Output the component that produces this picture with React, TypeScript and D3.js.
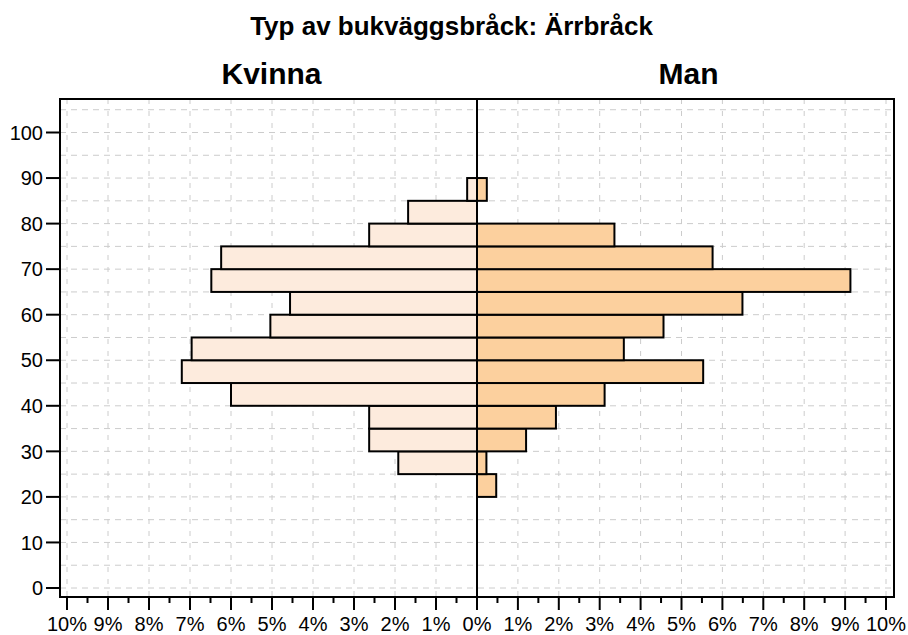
import React from "react";
import * as d3 from "d3";

const ageStarts = [20, 25, 30, 35, 40, 45, 50, 55, 60, 65, 70, 75, 80, 85];
const women = [0, 1.92, 2.63, 2.63, 6.0, 7.2, 6.96, 5.04, 4.56, 6.48, 6.24, 2.63, 1.68, 0.24];
const men = [0.47, 0.23, 1.2, 1.93, 3.12, 5.53, 3.59, 4.56, 6.49, 9.13, 5.76, 3.36, 0, 0.24];
const yTicks = [0, 10, 20, 30, 40, 50, 60, 70, 80, 90, 100];
const pctTicks = [1, 2, 3, 4, 5, 6, 7, 8, 9, 10];
const title = "Typ av bukväggsbråck: Ärrbråck";
const leftLabel = "Kvinna";
const rightLabel = "Man";

const W = 908, H = 635;
const frame = { l: 60, r: 894, t: 99, b: 597 };
const cx = 477;
const font = "'Liberation Sans', Arial, Helvetica, sans-serif";

export default function App() {
  const xL = d3.scaleLinear().domain([0, 10]).range([cx, 67]);
  const xR = d3.scaleLinear().domain([0, 10]).range([cx, 886]);
  const y = d3.scaleLinear().domain([0, 100]).range([588, 132.5]);
  const gridY = d3.range(0, 106, 5);
  const minor = d3.range(0.5, 10, 1);

  return (
    <svg width={W} height={H} style={{ position: "absolute", left: 0, top: 0, background: "#fff" }}>
      <text x={451.5} y={35} textAnchor="middle" fontFamily={font} fontWeight="bold" fontSize={26}>{title}</text>
      <text x={(frame.l + cx) / 2 + 3} y={84} textAnchor="middle" fontFamily={font} fontWeight="bold" fontSize={30}>{leftLabel}</text>
      <text x={(cx + frame.r) / 2 + 3} y={84} textAnchor="middle" fontFamily={font} fontWeight="bold" fontSize={30}>{rightLabel}</text>

      {/* grid */}
      <g stroke="#cccccc" strokeWidth={1}>
        {gridY.map((v) => (
          <line key={"gy" + v} x1={frame.l} x2={frame.r} y1={y(v)} y2={y(v)} strokeDasharray="6,5" />
        ))}
        {pctTicks.map((p) => (
          <line key={"gl" + p} x1={xL(p)} x2={xL(p)} y1={frame.t} y2={frame.b} strokeDasharray="5,7" />
        ))}
        {pctTicks.map((p) => (
          <line key={"gr" + p} x1={xR(p)} x2={xR(p)} y1={frame.t} y2={frame.b} strokeDasharray="5,7" />
        ))}
      </g>

      {/* bars */}
      <g stroke="#000" strokeWidth={2}>
        {ageStarts.map((a, i) =>
          women[i] > 0 ? (
            <rect key={"w" + a} x={xL(women[i])} width={cx - xL(women[i])} y={y(a + 5)} height={y(a) - y(a + 5)} fill="#fdebdd" />
          ) : null
        )}
        {ageStarts.map((a, i) =>
          men[i] > 0 ? (
            <rect key={"m" + a} x={cx} width={xR(men[i]) - cx} y={y(a + 5)} height={y(a) - y(a + 5)} fill="#fcd09e" />
          ) : null
        )}
      </g>

      <line x1={cx} x2={cx} y1={frame.t} y2={frame.b} stroke="#000" strokeWidth={2} />
      <rect x={frame.l} y={frame.t} width={frame.r - frame.l} height={frame.b - frame.t} fill="none" stroke="#000" strokeWidth={2} />

      {/* y axis */}
      <g>
        {yTicks.map((v) => (
          <g key={"yt" + v}>
            <line x1={frame.l - 14} x2={frame.l} y1={y(v)} y2={y(v)} stroke="#000" strokeWidth={2} />
            <text x={frame.l - 17} y={y(v)} dy="0.36em" textAnchor="end" fontFamily={font} fontSize={20}>{v}</text>
          </g>
        ))}
      </g>

      {/* x axis */}
      <g>
        <line x1={cx} x2={cx} y1={frame.b} y2={frame.b + 13} stroke="#000" strokeWidth={2} />
        <text x={cx} y={631} textAnchor="middle" fontFamily={font} fontSize={20}>0%</text>
        {pctTicks.map((p) => (
          <g key={"xt" + p}>
            <line x1={xL(p)} x2={xL(p)} y1={frame.b} y2={frame.b + 13} stroke="#000" strokeWidth={2} />
            <line x1={xR(p)} x2={xR(p)} y1={frame.b} y2={frame.b + 13} stroke="#000" strokeWidth={2} />
            <text x={xL(p)} y={631} textAnchor="middle" fontFamily={font} fontSize={20}>{p + "%"}</text>
            <text x={xR(p)} y={631} textAnchor="middle" fontFamily={font} fontSize={20}>{p + "%"}</text>
          </g>
        ))}
        {minor.map((p) => (
          <g key={"mn" + p}>
            <line x1={xL(p)} x2={xL(p)} y1={frame.b} y2={frame.b + 6} stroke="#000" strokeWidth={2} />
            <line x1={xR(p)} x2={xR(p)} y1={frame.b} y2={frame.b + 6} stroke="#000" strokeWidth={2} />
          </g>
        ))}
      </g>
    </svg>
  );
}
